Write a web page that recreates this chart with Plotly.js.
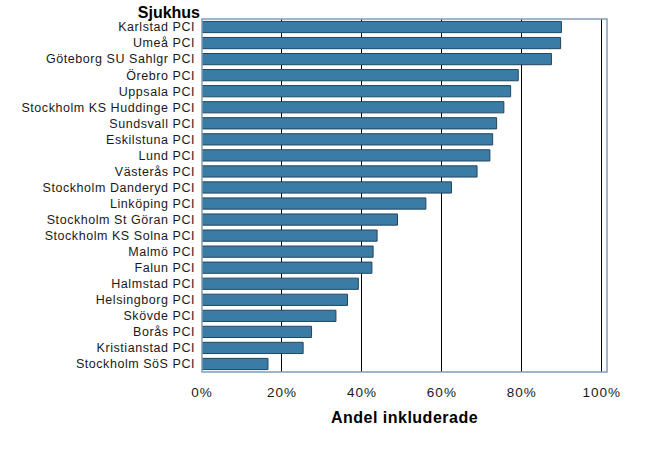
<!DOCTYPE html>
<html>
<head>
<meta charset="utf-8">
<script src="https://cdn.plot.ly/plotly-3.0.1.min.js"></script>
<style>
html,body{margin:0;padding:0;background:#fff;}
#chart{width:657px;height:449px;}
.ytick text{letter-spacing:0.55px;}
.xtick text{letter-spacing:1px;}
.g-xtitle text{letter-spacing:0.5px;}
</style>
</head>
<body>
<div id="chart"></div>
<script>
const hospitals = [
  "Karlstad PCI","Umeå PCI","Göteborg SU Sahlgr PCI","Örebro PCI","Uppsala PCI",
  "Stockholm KS Huddinge PCI","Sundsvall PCI","Eskilstuna PCI","Lund PCI","Västerås PCI",
  "Stockholm Danderyd PCI","Linköping PCI","Stockholm St Göran PCI","Stockholm KS Solna PCI",
  "Malmö PCI","Falun PCI","Halmstad PCI","Helsingborg PCI","Skövde PCI","Borås PCI",
  "Kristianstad PCI","Stockholm SöS PCI"
];
const shareIncluded = [
  0.899,0.897,0.874,0.791,0.772,
  0.755,0.737,0.727,0.720,0.688,
  0.624,0.560,0.489,0.438,
  0.428,0.425,0.391,0.364,0.335,0.274,
  0.253,0.165
];
const xTickVals = [0,0.2,0.4,0.6,0.8,1.0];
const xTickText = ["0%","20%","40%","60%","80%","100%"];

const trace = {
  type: "bar",
  orientation: "h",
  y: hospitals,
  x: shareIncluded,
  marker: {color: "#3a7ca5", line: {color: "#23465f", width: 1}},
  width: 0.7,
  hoverinfo: "none"
};

const layout = {
  width: 657, height: 449,
  margin: {l: 202, r: 50, t: 19, b: 77},
  paper_bgcolor: "#ffffff",
  plot_bgcolor: "#ffffff",
  showlegend: false,
  font: {family: "Liberation Sans, Arial, sans-serif", size: 12, color: "#1a1a1a"},
  title: {
    text: "<b>Sjukhus</b>",
    font: {family: "Liberation Sans, Arial, sans-serif", size: 16, color: "#000"},
    xref: "paper", x: 0, xanchor: "right",
    yref: "paper", y: 1, yanchor: "bottom", pad: {b: 1, r: 2}
  },
  xaxis: {
    range: [0, 1.013],
    tickvals: xTickVals,
    ticktext: xTickText,
    showgrid: true, gridcolor: "#000000", gridwidth: 1,
    zeroline: false,
    showline: false,
    ticks: "",
    ticklabelstandoff: 10,
    tickfont: {size: 13.5, color: "#1a1a1a"},
    title: {text: "<b>Andel inkluderade</b>", font: {size: 16, color: "#000"}, standoff: 13},
    fixedrange: true
  },
  yaxis: {
    autorange: "reversed",
    type: "category",
    showgrid: false, zeroline: false, showline: false,
    ticks: "",
    ticklabelstandoff: 6,
    tickfont: {size: 12.5, color: "#1a1a1a"},
    fixedrange: true
  },
  shapes: [
    {type: "rect", xref: "paper", yref: "paper", x0: 0, x1: 1, y0: 0, y1: 1,
     line: {color: "#7f9db9", width: 1.5}, fillcolor: "rgba(0,0,0,0)", layer: "above"}
  ]
};

Plotly.newPlot("chart", [trace], layout, {staticPlot: true, displayModeBar: false});
</script>
</body>
</html>
